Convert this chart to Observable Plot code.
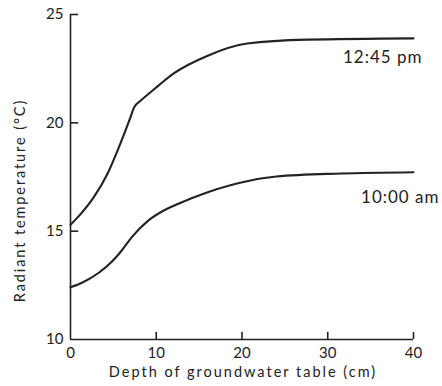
<!DOCTYPE html>
<html>
<head>
<meta charset="utf-8">
<script src="https://cdn.jsdelivr.net/npm/d3@7"></script>
<script src="https://cdn.jsdelivr.net/npm/@observablehq/plot@0.6"></script>
<style>
  html, body { margin: 0; padding: 0; background: #fff; }
  #chart svg { display: block; }
</style>
</head>
<body>
<div id="chart"></div>
<script>
// Data
const depth1245 = [0, 1.2, 2.7, 4.3, 5.8, 7.0, 7.4, 8.2, 9.3, 10.5, 12, 16, 20.6, 27.6, 40];
const temp1245  = [15.3, 15.8, 16.56, 17.64, 19.03, 20.26, 20.7, 21.03, 21.4, 21.8, 22.27, 23.1, 23.66, 23.84, 23.9];
const depth1000 = [0, 1.4, 3.3, 4.9, 6.0, 7.2, 9.1, 11.1, 12.3, 16, 21, 24, 31.5, 40];
const temp1000  = [12.41, 12.63, 13.08, 13.62, 14.12, 14.75, 15.5, 16.0, 16.22, 16.8, 17.34, 17.52, 17.66, 17.72];
const seriesNames = ["12:45 pm", "10:00 am"];
const xTicks = [0, 10, 20, 30, 40];
const yTicks = [10, 15, 20, 25];
const yTitle = "Radiant temperature (°C)";
const xTitle = "Depth of groundwater table (cm)";

const rows = [
  ...depth1245.map((d, i) => ({series: seriesNames[0], depth: d, temp: temp1245[i]})),
  ...depth1000.map((d, i) => ({series: seriesNames[1], depth: d, temp: temp1000[i]}))
];
const lastPts = seriesNames.map(s => rows.filter(r => r.series === s).slice(-1)[0]);

const ink = "#222";
const font = "Lato, 'DejaVu Sans', sans-serif";

const chart = Plot.plot({
  width: 442,
  height: 386,
  marginLeft: 70,
  marginRight: 29,
  marginTop: 14,
  marginBottom: 47,
  style: {fontFamily: font, color: ink, background: "#fff"},
  x: {domain: [0, 40]},
  y: {domain: [10, 25]},
  marks: [
    // axis lines
    Plot.ruleY([10], {stroke: ink, strokeWidth: 1.6}),
    Plot.ruleX([0], {stroke: ink, strokeWidth: 1.6}),
    // inward ticks
    Plot.ruleY(yTicks.filter(t => t > 10), {y: d => d, x1: 0, x2: 0.95, stroke: ink, strokeWidth: 1.6}),
    Plot.ruleX(xTicks.filter(t => t > 0), {x: d => d, y1: 10, y2: 10.33, stroke: ink, strokeWidth: 1.6}),
    // tick labels
    Plot.axisY({ticks: yTicks, tickSize: 0, tickPadding: 7, fontSize: 15, label: null, tickFormat: d => String(d)}),
    Plot.axisX({ticks: xTicks, tickSize: 0, tickPadding: 8, fontSize: 15, label: null, tickFormat: d => String(d)}),
    // axis titles
    Plot.text([yTitle], {frameAnchor: "left", textAnchor: "middle", lineAnchor: "middle", rotate: -90, dx: -50, dy: 23.5, fontSize: 14.5, fill: ink, text: d => d}),
    Plot.text([xTitle], {frameAnchor: "bottom", textAnchor: "middle", dy: 37, dx: 1, fontSize: 14.5, fill: ink, text: d => d}),
    // curves
    Plot.line(rows, {x: "depth", y: "temp", z: "series", stroke: ink, strokeWidth: 2.1, curve: "monotone-x"}),
    // series labels
    Plot.text([lastPts[0]], {x: "depth", y: "temp", text: "series", textAnchor: "end", dx: 9, dy: 19, fontSize: 17, fill: ink}),
    Plot.text([lastPts[1]], {x: "depth", y: "temp", text: "series", textAnchor: "end", dx: 26, dy: 25, fontSize: 17, fill: ink})
  ]
});
// letter spacing for the lettering style of the original
chart.querySelectorAll("text").forEach(t => {
  const s = t.textContent;
  if (s === yTitle) t.style.letterSpacing = "1.9px";
  else if (s === xTitle) t.style.letterSpacing = "2px";
  else if (seriesNames.includes(s)) t.style.letterSpacing = "1px";
});
document.getElementById("chart").appendChild(chart);
</script>
</body>
</html>
